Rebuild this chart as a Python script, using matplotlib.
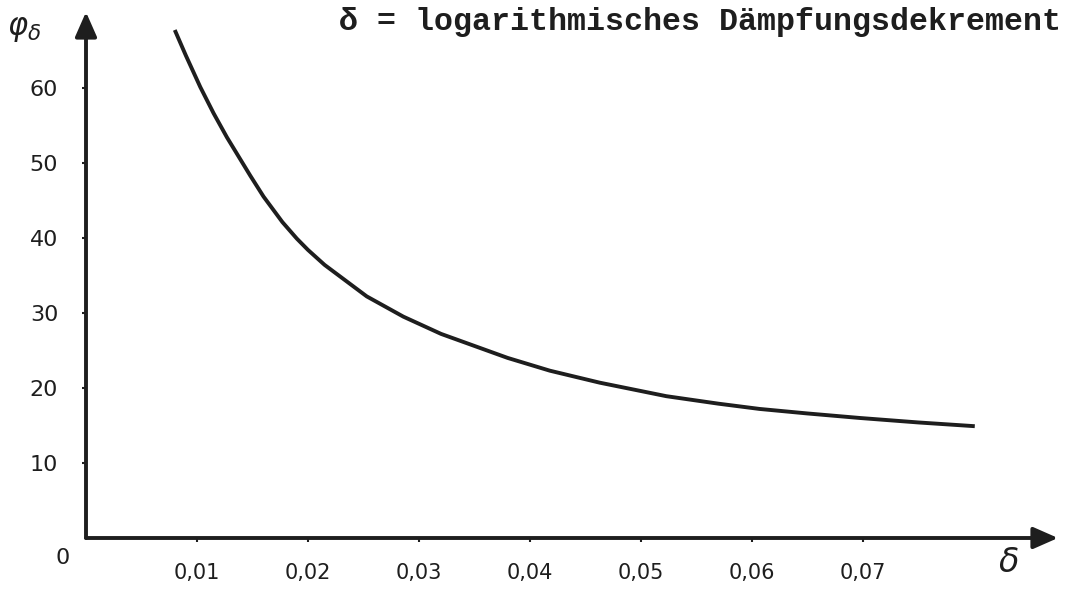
import matplotlib
matplotlib.use('Agg')
import matplotlib.pyplot as plt

# values
delta = [0.0080, 0.0090, 0.0103, 0.0115, 0.0127, 0.0148, 0.0160, 0.0177,
         0.0190, 0.0200, 0.0215, 0.0253, 0.0286, 0.0320, 0.0350, 0.0380,
         0.0418, 0.0463, 0.0523, 0.0570, 0.0607, 0.0650, 0.0697, 0.0750,
         0.0801]
phi = [67.7, 64.3, 60.1, 56.6, 53.4, 48.3, 45.5, 42.1,
       39.9, 38.4, 36.4, 32.2, 29.5, 27.2, 25.6, 24.0,
       22.3, 20.7, 18.9, 17.9, 17.2, 16.6, 16.0, 15.4,
       14.9]

x_ticks = [0.01, 0.02, 0.03, 0.04, 0.05, 0.06, 0.07]
x_labels = ['0,01', '0,02', '0,03', '0,04', '0,05', '0,06', '0,07']
y_ticks = [10, 20, 30, 40, 50, 60]
y_labels = ['10', '20', '30', '40', '50', '60']

title = 'δ = logarithmisches Dämpfungsdekrement'

ink = '#1e1e1e'
W, H = 1070, 589
fig = plt.figure(figsize=(W / 100, H / 100), dpi=100)
ax = fig.add_axes([86 / W, (H - 538) / H, (1058 - 86) / W, (538 - 12) / H])
xmax, ymax = 0.0876, 70.1
ax.set_xlim(0, xmax)
ax.set_ylim(0, ymax)
for s in ax.spines.values():
    s.set_visible(False)

# axes as arrows
arr = dict(arrowstyle='-|>,head_length=0.75,head_width=0.33', lw=2.8,
           color=ink, shrinkA=0, shrinkB=0, mutation_scale=20)
ax.annotate('', xy=(xmax, 0), xytext=(0, 0), arrowprops=arr,
            annotation_clip=False)
ax.annotate('', xy=(0, ymax), xytext=(0, 0), arrowprops=arr,
            annotation_clip=False)

ax.plot(delta, phi, color=ink, lw=2.8, solid_capstyle='butt',
        solid_joinstyle='round')

ax.set_xticks(x_ticks)
ax.set_xticklabels(x_labels)
ax.set_yticks(y_ticks)
ax.set_yticklabels(y_labels)
ax.tick_params(axis='x', direction='out', length=3, width=1.5, color=ink,
               pad=15, labelsize=15, labelcolor=ink)
ax.tick_params(axis='y', direction='out', length=3, width=1.5, color=ink,
               pad=17, labelsize=16, labelcolor=ink)

ax.annotate('0', xy=(0, 0), xytext=(-17, -14.5), textcoords='offset points',
            ha='center', va='center', fontsize=16, color=ink,
            annotation_clip=False)
ax.annotate(r'$\delta$', xy=(xmax, 0), xytext=(-36, -18),
            textcoords='offset points', ha='center', va='center',
            fontsize=24, color=ink, annotation_clip=False)

fig.text(24 / W, 1 - 30 / H, r'$\varphi_{\delta}$', fontsize=22, color=ink,
         ha='center', va='center')
fig.text(339 / W, 1 - 22 / H, title, family='Liberation Mono',
         fontweight='bold', fontsize=22.8, color=ink, ha='left', va='center')

fig.savefig('out.png', dpi=100, facecolor='white')
